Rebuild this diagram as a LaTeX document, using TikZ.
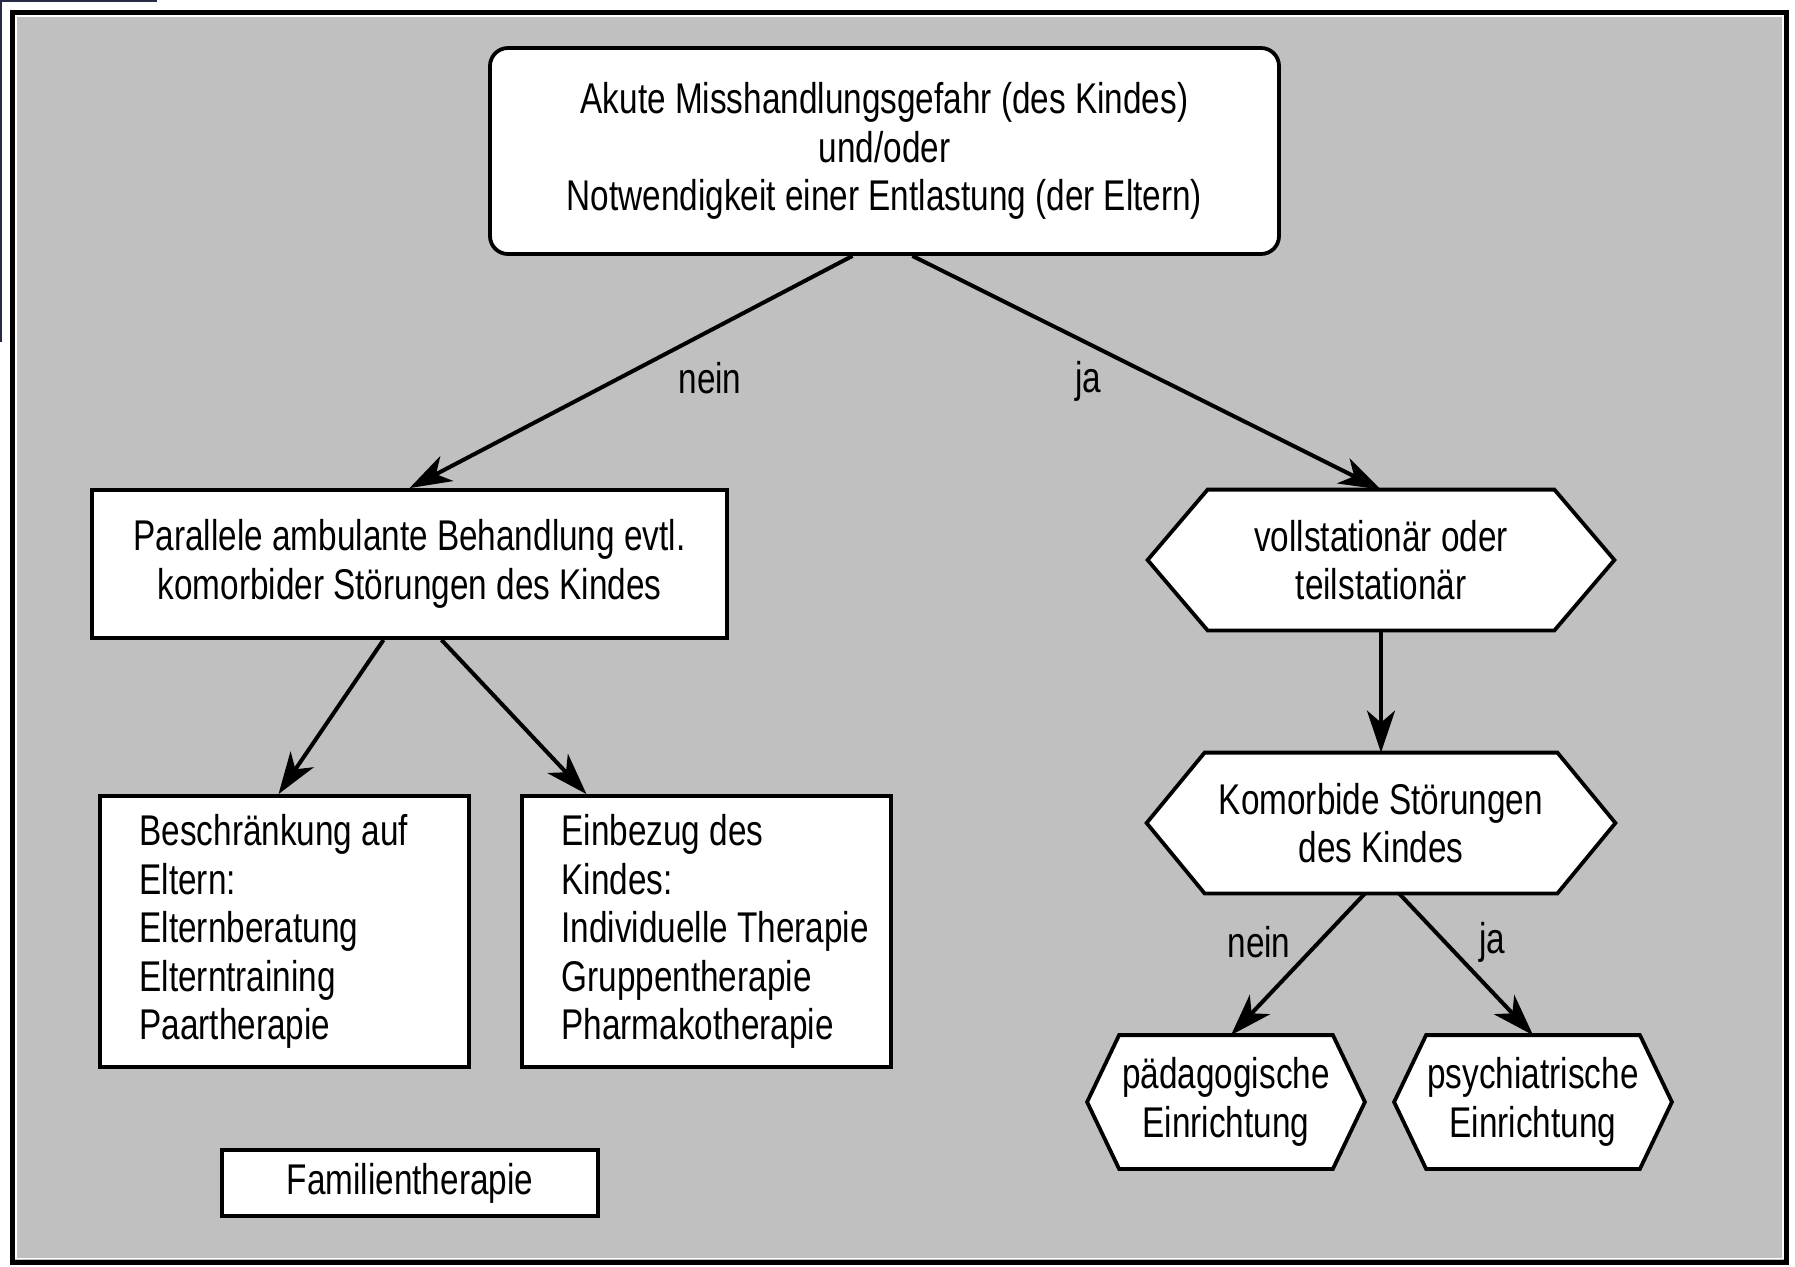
\documentclass[tikz,border=0pt]{standalone}
\usepackage{fontspec}
\setmainfont{Liberation Sans}[FakeStretch=0.775]
\usetikzlibrary{arrows.meta}

\definecolor{panel}{HTML}{C0C0C0}
\definecolor{edge}{HTML}{262A45}

% elongated hexagon: name, centre, width, height, slant, text
\newcommand\flowhex[6]{%
  \node[minimum width=#3, minimum height=#4, inner sep=0pt] (#1) at #2 {};
  \draw[hexline] (#1.west) -- ([xshift=#5]#1.north west) -- ([xshift=-#5]#1.north east)
    -- (#1.east) -- ([xshift=-#5]#1.south east) -- ([xshift=#5]#1.south west) -- cycle;
  \node[txt] (#1-text) at (#1) {#6};%
}

\begin{document}
\begin{tikzpicture}[x=0.5pt, y=-0.5pt,
  txt/.style={font=\fontsize{21.5}{24.3}\selectfont, align=center, inner sep=0pt},
  box/.style={draw=black, fill=white, line width=1.9pt, inner sep=0pt},
  hexline/.style={draw=black, fill=white, line width=1.9pt, line join=miter},
  conn/.style={line width=2pt, -{Stealth[length=21pt, width=14pt, inset=6pt]}},
  lbl/.style={font=\fontsize{21.5}{24.3}\selectfont, inner sep=0pt}]

\useasboundingbox (0,0) rectangle (1795,1266);
\fill[white] (0,0) rectangle (1795,1266);
\draw[edge, line width=1pt] (0,1) -- (157,1);
\draw[edge, line width=1pt] (1,0) -- (1,342);

% panel
\draw[line width=2.5pt, fill=panel] (12.5,12.5) rectangle (1786.5,1262);
\draw[white, line width=0.8pt] (16,16) rectangle (1783,1258.5);

% left branch
\node[box, txt, rounded corners=9pt, minimum width=394.5pt, minimum height=103pt] (top) at (884.5,151)
  {Akute Misshandlungsgefahr (des Kindes)\\und/oder\\Notwendigkeit einer Entlastung (der Eltern)};

\node[box, txt, minimum width=317.5pt, minimum height=74pt] (par) at (409.5,564)
  {Parallele ambulante Behandlung evtl.\\komorbider Störungen des Kindes};

\node[box, minimum width=184.5pt, minimum height=135.5pt] (eltern) at (284.5,931.5) {};
\node[txt, align=left, anchor=west] (eltern-text) at ([xshift=20.5pt]eltern.west)
  {Beschränkung auf\\Eltern:\\Elternberatung\\Elterntraining\\Paartherapie};

\node[box, minimum width=184.5pt, minimum height=135.5pt] (kind) at (706.5,931.5) {};
\node[txt, align=left, anchor=west] (kind-text) at ([xshift=20.5pt]kind.west)
  {Einbezug des\\Kindes:\\Individuelle Therapie\\Gruppentherapie\\Pharmakotherapie};

\node[box, txt, minimum width=188pt, minimum height=33pt] (fam) at (410,1183) {Familientherapie};

% right branch
\flowhex{stat}{(1381,560)}{233pt}{70pt}{30pt}{vollstationär oder\\teilstationär}
\flowhex{komorb}{(1381,823)}{234pt}{70pt}{29pt}{Komorbide Störungen\\des Kindes}
\flowhex{paed}{(1226,1102)}{138.5pt}{66.5pt}{16pt}{pädagogische\\Einrichtung}
\flowhex{psych}{(1533,1102)}{138.5pt}{66.5pt}{16pt}{psychiatrische\\Einrichtung}

% connectors
\draw[conn] ([xshift=-16pt]top.south) -- (par.north);
\draw[conn] ([xshift=14pt]top.south) -- (stat.north);
\draw[conn] ([xshift=-13pt]par.south) -- ([xshift=-3pt]eltern.north);
\draw[conn] ([xshift=16pt]par.south) -- ([xshift=-60pt]kind.north);
\draw[conn] (stat.south) -- (komorb.north);
\draw[conn] ([xshift=-8pt]komorb.south) -- ([xshift=2.5pt]paed.north);
\draw[conn] ([xshift=9pt]komorb.south) -- (psych.north);

% branch labels
\node[lbl] (nein-a) at (710,378) {nein};
\node[lbl] (ja-a) at (1088,381) {ja};
\node[lbl] (nein-b) at (1259,942) {nein};
\node[lbl] (ja-b) at (1492,942) {ja};
\end{tikzpicture}
\end{document}
